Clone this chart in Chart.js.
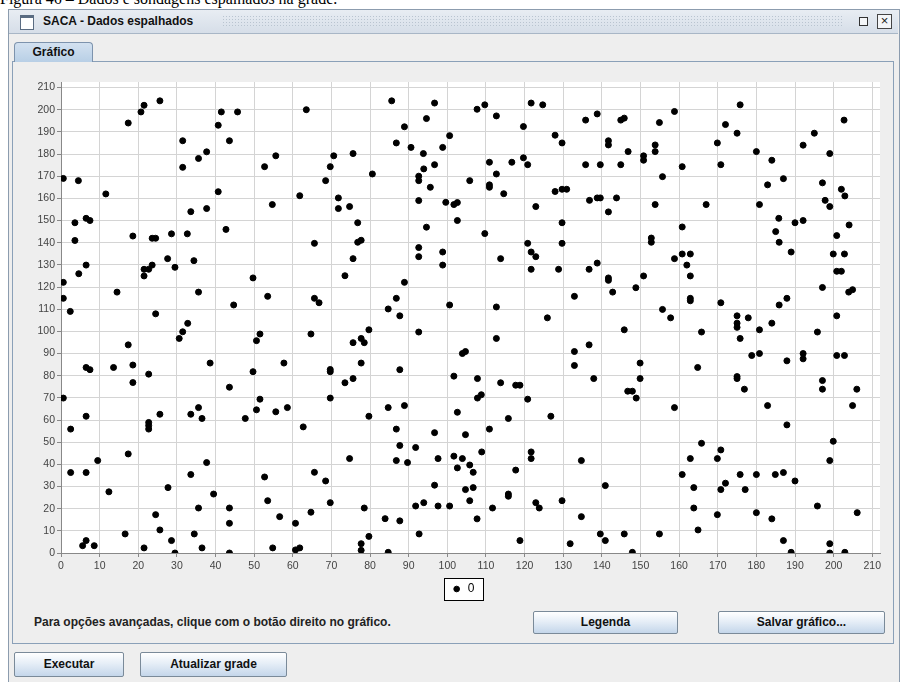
<!DOCTYPE html>
<html>
<head>
<meta charset="utf-8">
<script src="https://cdn.jsdelivr.net/npm/chart.js@4/dist/chart.umd.min.js"></script>
<style>
  body { margin: 0; width: 906px; height: 682px; overflow: hidden; background: #fff; position: relative;
         font-family: "Liberation Sans", Arial, sans-serif; }
  .abs { position: absolute; }
  #caption { left: 0; top: -9px; font: 16px/16px "Liberation Serif", "Times New Roman", serif; white-space: nowrap; }
  #win { left: 8px; top: 9px; width: 890px; height: 690px; background: #eeeeee; border: 1px solid #8c9cae; }
  #title { left: 9px; top: 10px; width: 889px; height: 23px; background: linear-gradient(#e8edf3, #d6dee8);
           border-bottom: 1px solid #a8b6c6; }
  #bumps { left: 222px; top: 15px; width: 622px; height: 13px;
           background-image: radial-gradient(circle, #b9c4d0 0.8px, transparent 1px); background-size: 3px 3px; }
  #title span { position: absolute; left: 34px; top: 4px; font-weight: bold; font-size: 12px; color: #111; }
  #icon { left: 20px; top: 15px; width: 12px; height: 11px; border: 1px solid #5a6c82; border-top: 3px solid #5a6c82; background: #fff; }
  #restore { left: 859px; top: 17px; width: 7px; height: 7px; border: 1px solid #333; background: #f4f6f8; }
  #close { left: 877px; top: 14px; width: 13px; height: 13px; border: 1px solid #444; background: #f4f6f8;
           font-size: 13px; line-height: 12px; text-align: center; color: #222; }
  #tab { left: 14px; top: 42px; width: 77px; height: 19px; border: 1px solid #7d93ad; border-bottom: none;
         border-radius: 4px 4px 0 0; background: linear-gradient(#d3e1f0, #b8cfe6); font-weight: bold; font-size: 12px;
         line-height: 19px; text-align: center; color: #111; }
  #panel { left: 12px; top: 61px; width: 880px; height: 581px; border: 1px solid #8aa0b8; background: #eeeeee; }
  #chartBox { left: 18px; top: 66px; width: 870px; height: 540px; background: #eeeeee; }
  #hint { left: 34px; top: 615px; font-weight: bold; font-size: 12px; color: #222; white-space: nowrap; }
  .btn { border: 1px solid #7a8a99; border-radius: 2px; background: linear-gradient(#ffffff, #e6eef7 45%, #c4d6ea);
         font-weight: bold; font-size: 12px; text-align: center; color: #111; box-sizing: border-box; }
</style>
</head>
<body>
<div id="caption" class="abs">Figura 46 – Dados e sondagens espalhados na grade.</div>
<div id="win" class="abs"></div>
<div id="title" class="abs"><span>SACA - Dados espalhados</span></div>
<div id="bumps" class="abs"></div>
<div id="icon" class="abs"></div>
<div id="restore" class="abs"></div>
<div id="close" class="abs">×</div>
<div id="panel" class="abs"></div>
<div id="tab" class="abs">Gráfico</div>
<div id="chartBox" class="abs"><canvas id="chart" width="870" height="540"></canvas></div>
<div id="hint" class="abs">Para opções avançadas, clique com o botão direito no gráfico.</div>
<div class="abs btn" style="left:533px;top:611px;width:145px;height:23px;line-height:21px">Legenda</div>
<div class="abs btn" style="left:718px;top:611px;width:167px;height:23px;line-height:21px">Salvar gráfico...</div>
<div class="abs btn" style="left:14px;top:652px;width:110px;height:25px;line-height:23px">Executar</div>
<div class="abs btn" style="left:140px;top:652px;width:147px;height:25px;line-height:23px">Atualizar grade</div>

<script>
const seriesName = "0";
// same tick labels on both axes
const tickValues = [0, 10, 20, 30, 40, 50, 60, 70, 80, 90, 100, 110, 120, 130, 140, 150, 160, 170, 180, 190, 200, 210];

// x / y of each sample
const pointX = [
  0.6, 4.5, 17.4, 20.7, 21.5, 25.6, 11.6, 3.6, 3.6, 6.5, 7.5, 18.6, 23.6, 24.5, 28.6, 32.7, 31.5, 31.5, 35.6, 37.7,
  33.6, 37.7, 40.7, 41.5, 45.7, 43.6, 40.7, 42.7,
  63.5, 52.7, 55.6, 54.7, 61.8, 70.6, 69.7, 75.6, 68.5, 71.8, 71.8, 74.7, 80.6, 76.8, 76.8, 77.7, 65.6, 85.6, 96.7, 94.6,
  88.9, 100.6, 86.8, 90.6, 98.8, 93.8, 93.9, 96.7, 92.6, 92.6, 95.6, 92.6, 99.6, 101.7, 102.6, 102.6, 94.6,
  107.7, 109.7, 112.7, 121.7, 124.7, 119.7, 127.9, 129.7, 110.9, 116.7, 119.7, 120.8, 112.7, 105.8, 110.9, 110.9,
  114.6, 127.9, 129.7, 130.9, 109.7, 122.9, 129.7, 120.8, 129.7, 135.8, 138.8, 144.9, 145.8, 154.9, 141.7, 141.7,
  146.8, 150.8, 150.8, 153.8, 153.8, 135.8, 139.6, 144.9, 155.7, 136.8, 138.8, 139.6, 143.8, 141.7, 153.8, 152.8, 152.8,
  158.8, 160.8, 167, 160.8, 175.8, 172, 175, 169.9, 170.8, 180, 184, 187, 182.9, 180.8, 185.8, 190, 192.1, 185, 185.9,
  202.7, 195, 192.1, 199, 197.1, 202, 202.9, 197.8, 199, 204, 200.8,
  0.6, 0.6, 2.4, 4.6, 6.5, 14.5, 21.5, 22.7, 21.5, 23.6, 24.5, 27.6, 29.5, 34.4, 35.6, 32.8, 31.5, 30.6, 44.7, 49.7,
  17.4, 6.5, 7.5, 13.6, 18.6, 18.6, 22.7, 38.6, 43.6, 49.7, 50.6, 0.6,
  75.6, 73.5, 53.5, 65.6, 66.8, 88.9, 86.8, 84.7, 87.7, 92.6, 92.6, 98.8, 98.8, 100.6, 51.5, 64.7, 79.7, 77.7, 78.5,
  75.6, 92.6, 57.7, 69.7, 69.7, 77.7, 87.7, 101.7, 73.5, 75.6, 51.5, 69.7,
  121.7, 122.9, 113.8, 121.7, 128.8, 136.7, 138.8, 141.7, 141.7, 150.8, 148.8, 142.8, 132.9, 112.7, 125.9, 155.7,
  145.8, 112.7, 103.9, 104.7, 132.9, 136.7, 132.9, 149.9, 107.8, 113.8, 117.7, 118.8, 137.9, 149.9, 146.7, 147.9,
  107.8, 108.8, 120.8, 148.9,
  158.8, 160.8, 162.9, 162, 162.9, 162.9, 162.9, 157.8, 165.8, 189, 170.8, 175, 175, 175, 177.9, 175.8, 180.8, 184,
  185.9, 187.9, 178.8, 180.8, 187.9, 192.1, 192.1, 164.8, 175, 175, 176.9, 197.1, 199.9, 202.8, 200.8, 202, 203.9,
  204.9, 200.8, 195.8, 200.8, 202.8, 197.1, 197.1, 206,
  6.5, 2.5, 17.4, 9.5, 2.5, 6.5, 12.4, 5.6, 8.6, 6.5, 16.6, 21.5, 22.7, 22.7, 22.7, 25.6, 24.5, 25.6, 27.7, 28.6, 29.5,
  33.6, 35.6, 36.5, 37.7, 33.6, 39.5, 35.6, 43.6, 43.6, 34.5, 36.5, 43.6, 47.7, 50.6,
  55.6, 58.6, 62.7, 52.7, 53.5, 56.6, 60.7, 54.8, 60.7, 61.8, 65.6, 68.5, 69.7, 64.7, 74.7, 79.7, 78.5, 79.7, 77.7,
  77.7, 84.7, 88.9, 86.8, 87.7, 86.8, 89.7, 91.8, 83.9, 87.7, 84.7, 91.8, 93.9, 92.7, 96.7, 97.6, 96.7, 97.6, 100.6,
  101.7, 102.6, 102.6,
  115.8, 126.8, 110.9, 104.7, 108.9, 103.9, 105.8, 106.7, 121.7, 121.7, 117.7, 104.7, 106.7, 105.8, 107.7, 111.7,
  115.8, 115.8, 122.9, 123.8, 129.7, 118.8, 134.7, 134.7, 131.8, 140.9, 139.6, 140.9, 145.8, 147.9, 154.9,
  158.8, 182.9, 204.9, 187.9, 165.8, 170.8, 162.9, 169.9, 199.9, 199, 160.8, 175.8, 180, 184.9, 187, 190, 163.8, 170.8,
  172, 177.1, 163.8, 169.9, 180, 184, 195.8, 206.1, 164.9, 187, 189, 199, 199, 202.9
];
const pointY = [
  169, 168, 194, 199, 202, 204, 162, 149, 141, 151, 150, 143, 142, 142, 144, 144, 186, 174, 178, 181,
  154, 155.4, 193, 199, 199, 186, 163, 146,
  200, 174.3, 179.2, 157.2, 161.2, 179.2, 174.3, 180.2, 168, 160.2, 155.4, 156.3, 171, 149, 140.2, 141.1, 139.7, 204, 203, 196,
  192.3, 188.3, 185, 183, 183, 180.2, 173.3, 175.2, 170, 168, 165, 159, 158.2, 157.2, 158.1, 150, 147,
  200.2, 202.2, 197.2, 203, 202.2, 192.4, 188.5, 185, 176.3, 176.3, 178.3, 175.2, 171, 168, 166.1, 165,
  162.1, 163.1, 164.1, 164.1, 144.1, 156.3, 149, 139.7, 139.7, 195.3, 198.1, 195.3, 196.2, 194.2, 186, 184.1,
  181.1, 179.2, 177.2, 184.1, 181.1, 175.2, 175.2, 175.2, 169.8, 159.1, 160.2, 160.2, 160.2, 153.9, 157.2, 142.1, 140.2,
  199.2, 174.3, 157.2, 147.1, 202.2, 193.3, 189.4, 185, 175.2, 181.1, 177.2, 168.9, 166.1, 157.2, 151, 149, 150, 145, 140.2,
  195.3, 189.4, 184, 180.2, 167, 164.1, 161.1, 159.1, 156.3, 148, 143.2,
  122.1, 114.9, 109, 126, 129.9, 117.7, 128, 128, 125, 129.9, 107.9, 132.8, 128.9, 131.9, 117.7, 103.6, 99.8, 96.8, 111.9, 124.1,
  93.9, 83.7, 82.7, 83.7, 84.8, 76.9, 80.7, 85.7, 74.8, 81.8, 95.8, 69.9,
  132.8, 125.1, 115.8, 114.9, 112.9, 122.1, 114.9, 110.1, 107, 137.8, 133.7, 135.8, 129.9, 111.9, 98.8, 98.8, 100.7, 96.8, 94.9,
  94.9, 99.7, 85.7, 82.8, 81.8, 85.7, 82.7, 79.8, 76.8, 78.7, 69.4, 69.9,
  135.8, 133.7, 132.8, 128, 128, 128, 130.8, 124.1, 123, 125, 119.7, 117.7, 115.8, 111, 106.1, 109.9,
  100.7, 96.8, 90, 90.9, 90.9, 93.9, 84.6, 85.7, 78.7, 76.8, 75.7, 75.7, 78.7, 78.7, 73, 73,
  69.9, 71.4, 69.4, 69.9,
  132.8, 134.9, 134.9, 129.9, 125, 114.9, 113.8, 106.1, 99.7, 135.8, 112.9, 107, 103.7, 101.8, 106.1, 96.8, 100.7, 103.7,
  111.9, 114.9, 89.1, 90, 86.7, 90, 87.6, 83.7, 79.6, 78.7, 73.9, 119.8, 134.9, 134.9, 127.1, 127.1, 117.7,
  118.8, 107, 99.7, 89.1, 89.1, 77.8, 73.9, 73.9,
  61.7, 55.9, 44.7, 41.7, 36.3, 36.3, 27.6, 3.3, 3.3, 5.6, 8.6, 2.3, 58.9, 57.5, 55.9, 62.6, 17.3, 10.4, 29.5, 5.6, 0,
  62.6, 65.6, 60.7, 40.8, 35.4, 26.6, 20.3, 20.3, 13.4, 8.6, 2.3, 0, 60.7, 64.6,
  63.7, 65.6, 56.9, 34.3, 23.6, 16.4, 13.4, 2.3, 1.4, 2.3, 36.4, 32.5, 22.7, 18.4, 42.6, 61.7, 20.3, 7.5, 4.2,
  1.2, 65.6, 66.5, 55.9, 48.5, 41.7, 40.8, 47.6, 15.5, 14.5, 0.3, 21.2, 22.7, 8.6, 54.3, 42.6, 30.6, 21.2, 21.2,
  43.7, 38.4, 63.5,
  60.7, 61.7, 55.9, 53.4, 45.6, 42.6, 39.7, 36.4, 45.6, 42.6, 37.4, 28.6, 29.5, 23.6, 15.4, 20.3,
  26.6, 25.6, 22.7, 20.3, 23.6, 5.6, 41.7, 16.4, 4.2, 30.4, 8.6, 5.6, 8.6, 0.3, 8.6,
  65.6, 66.5, 66.5, 57.8, 49.5, 46.5, 42.6, 42.6, 50.4, 41.7, 35.4, 35.4, 35.4, 35.4, 36.3, 32.5, 29.5, 28.6,
  31.5, 28.6, 20.3, 17.3, 18.2, 15.4, 21.2, 18.2, 10.4, 5.6, 0.3, 4.2, 0, 0.3
];

const points = pointX.map((x, i) => ({ x: x, y: pointY[i] }));

// white plot area and the boxed legend, like the original panel
const panelPlugin = {
  id: "panel",
  afterLayout(chart) {
    // the original legend sits a little right of the canvas centre
    if (chart.legend) chart.legend.left += 28;
  },
  beforeDraw(chart) {
    const ctx = chart.ctx;
    const a = chart.chartArea;
    ctx.save();
    ctx.fillStyle = "#ffffff";
    ctx.fillRect(a.left, a.top, a.right - a.left, a.bottom - a.top);
    const box = chart.legend && chart.legend.legendHitBoxes && chart.legend.legendHitBoxes[0];
    if (box) {
      const l = Math.round(box.left - 8) + 0.5;
      const t = Math.round(box.top - 5) + 0.5;
      const w = Math.round(box.width + 16);
      const h = Math.round(box.height + 10);
      ctx.fillRect(l, t, w, h);
      ctx.strokeStyle = "#000";
      ctx.lineWidth = 1;
      ctx.strokeRect(l, t, w, h);
    }
    ctx.restore();
  }
};

function fixedTicks(scale) {
  scale.ticks = tickValues.map((v) => ({ value: v }));
}

const tickFont = { family: "Liberation Sans, Arial, sans-serif", size: 10.5 };

new Chart(document.getElementById("chart"), {
  type: "scatter",
  data: {
    datasets: [
      {
        label: seriesName,
        data: points,
        backgroundColor: "#000",
        borderColor: "#000",
        pointRadius: 3,
        pointHoverRadius: 3,
      },
    ],
  },
  options: {
    responsive: false,
    animation: false,
    layout: { padding: { top: 16, right: 8, bottom: 1, left: 0 } },
    scales: {
      x: {
        type: "linear",
        min: 0,
        max: 212,
        afterBuildTicks: fixedTicks,
        afterFit: (s) => { s.height = 24; },
        ticks: { font: tickFont, color: "#444", padding: 3, maxRotation: 0, autoSkip: false },
        grid: { color: "#d4d4d4", borderDash: [2, 2], tickColor: "#888", tickBorderDash: [], tickLength: 4 },
        border: { display: true, color: "#888" },
      },
      y: {
        type: "linear",
        min: 0,
        max: 212.5,
        afterBuildTicks: fixedTicks,
        afterFit: (s) => { s.width = 43; },
        ticks: { font: tickFont, color: "#444", padding: 2, autoSkip: false },
        grid: { color: "#d4d4d4", borderDash: [2, 2], tickColor: "#888", tickBorderDash: [], tickLength: 4 },
        border: { display: true, color: "#888" },
      },
    },
    plugins: {
      legend: {
        position: "bottom",
        labels: {
          usePointStyle: true,
          pointStyle: "circle",
          boxWidth: 10,
          boxHeight: 4,
          padding: 6,
          color: "#000",
          font: { family: "Liberation Sans, Arial, sans-serif", size: 12 },
        },
      },
      tooltip: { enabled: false },
    },
  },
  plugins: [panelPlugin],
});
</script>
</body>
</html>
